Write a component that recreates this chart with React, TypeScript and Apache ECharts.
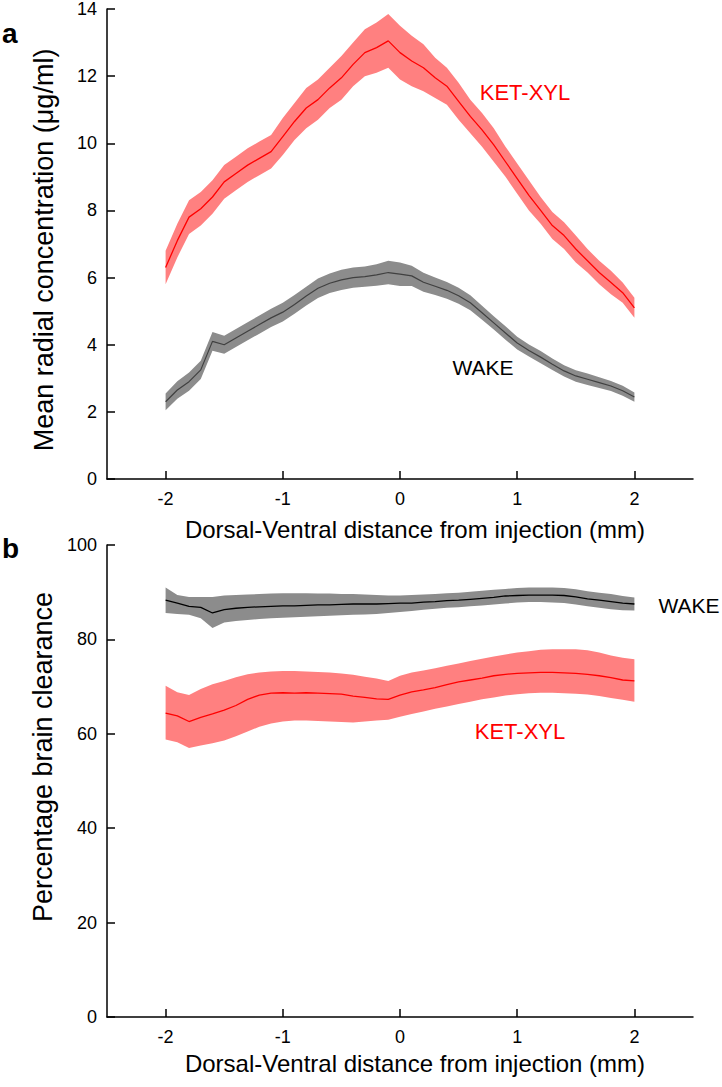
import React, { useEffect, useRef } from "react";
import * as echarts from "echarts";

// distance from injection (mm)
const X = [
  -2.0, -1.9, -1.8, -1.7, -1.6, -1.5, -1.4, -1.3, -1.2, -1.1, -1.0, -0.9, -0.8, -0.7, -0.6, -0.5, -0.4, -0.3, -0.2, -0.1,
  0.0, 0.1, 0.2, 0.3, 0.4, 0.5, 0.6, 0.7, 0.8, 0.9, 1.0, 1.1, 1.2, 1.3, 1.4, 1.5, 1.6, 1.7, 1.8, 1.9, 2.0,
];
const X_TICKS = [-2, -1, 0, 1, 2];

// Panel a: mean radial concentration (µg/ml)
const CONC_KET = [
  6.3, 7.1, 7.8, 8.05, 8.4, 8.85, 9.1, 9.35, 9.55, 9.75, 10.2, 10.65, 11.05, 11.3, 11.65, 11.95, 12.35, 12.7, 12.85, 13.05,
  12.7, 12.45, 12.25, 11.95, 11.7, 11.25, 10.8, 10.4, 9.95, 9.45, 8.95, 8.45, 8.0, 7.55, 7.25, 6.85, 6.5, 6.15, 5.85, 5.55, 5.1,
];
const CONC_KET_SE = [
  0.5, 0.5, 0.5, 0.5, 0.5, 0.5, 0.5, 0.5, 0.5, 0.5, 0.55, 0.55, 0.6, 0.6, 0.6, 0.65, 0.65, 0.7, 0.75, 0.8,
  0.8, 0.75, 0.7, 0.6, 0.55, 0.55, 0.5, 0.5, 0.5, 0.45, 0.45, 0.45, 0.4, 0.4, 0.4, 0.4, 0.35, 0.35, 0.35, 0.3, 0.3,
];
const CONC_WAKE = [
  2.3, 2.65, 2.9, 3.25, 4.1, 4.0, 4.2, 4.4, 4.6, 4.8, 4.97, 5.2, 5.45, 5.68, 5.83, 5.93, 6.0, 6.03, 6.08, 6.15,
  6.1, 6.05, 5.86, 5.74, 5.62, 5.46, 5.25, 4.95, 4.65, 4.35, 4.05, 3.83, 3.63, 3.42, 3.22, 3.07, 2.97, 2.87, 2.77, 2.63, 2.44,
];
const CONC_WAKE_SE = [
  0.25, 0.26, 0.27, 0.27, 0.28, 0.27, 0.27, 0.27, 0.27, 0.27, 0.28, 0.28, 0.28, 0.29, 0.29, 0.3, 0.3, 0.3, 0.32, 0.35,
  0.35, 0.3, 0.28, 0.26, 0.25, 0.24, 0.22, 0.21, 0.2, 0.2, 0.19, 0.18, 0.18, 0.17, 0.17, 0.17, 0.17, 0.16, 0.15, 0.15, 0.14,
];

// Panel b: percentage brain clearance
const CLR_WAKE = [
  88.3, 87.7, 87.0, 86.8, 85.6, 86.3, 86.6, 86.8, 86.9, 87.0, 87.1, 87.1, 87.2, 87.3, 87.3, 87.4, 87.5, 87.5, 87.5, 87.6,
  87.7, 87.7, 87.9, 88.0, 88.2, 88.3, 88.5, 88.7, 88.9, 89.2, 89.3, 89.4, 89.4, 89.4, 89.3, 89.0, 88.6, 88.3, 88.0, 87.7, 87.5,
];
const CLR_WAKE_HI = [
  91.0, 89.4, 89.0, 89.0, 89.0, 89.3, 89.4, 89.5, 89.6, 89.7, 89.8, 89.8, 89.8, 89.7, 89.7, 89.6, 89.6, 89.5, 89.4, 89.3,
  89.3, 89.4, 89.5, 89.6, 89.8, 89.9, 90.1, 90.3, 90.5, 90.7, 90.9, 91.0, 91.0, 91.0, 90.9, 90.6, 90.2, 89.9, 89.6, 89.2, 88.9,
];
const CLR_WAKE_LO = [
  85.6, 85.4, 85.2, 84.5, 82.4, 83.6, 83.9, 84.1, 84.3, 84.5, 84.6, 84.7, 84.8, 84.9, 85.0, 85.1, 85.2, 85.3, 85.4, 85.6,
  85.8, 86.0, 86.3, 86.5, 86.7, 86.8, 87.0, 87.2, 87.4, 87.6, 87.8, 87.9, 87.9, 87.8, 87.7, 87.4, 87.0, 86.7, 86.4, 86.2, 86.1,
];
const CLR_KET = [
  64.4, 63.8, 62.6, 63.5, 64.2, 65.0, 66.0, 67.3, 68.2, 68.6, 68.7, 68.6, 68.7, 68.6, 68.5, 68.4, 68.0, 67.7, 67.4, 67.3,
  68.2, 68.9, 69.3, 69.8, 70.4, 71.0, 71.4, 71.8, 72.3, 72.6, 72.8, 72.9, 73.0, 73.0, 72.9, 72.8, 72.6, 72.3, 71.9, 71.4, 71.2,
];
const CLR_KET_HI = [
  70.2, 68.8, 68.2, 69.5, 70.5, 71.2, 72.0, 72.6, 73.0, 73.2, 73.3, 73.3, 73.2, 73.1, 73.0, 72.8, 72.5, 72.1, 71.7, 71.2,
  72.3, 73.0, 73.4, 73.9, 74.4, 74.9, 75.4, 75.9, 76.4, 76.8, 77.2, 77.5, 77.8, 77.9, 77.9, 77.9, 77.7, 77.2, 76.6, 76.1, 75.8,
];
const CLR_KET_LO = [
  58.8, 58.2, 57.0, 57.5, 58.0, 58.6, 59.5, 60.5, 61.5, 62.2, 62.6, 62.8, 62.8, 62.7, 62.6, 62.5, 62.4, 62.6, 62.8, 63.0,
  63.6, 64.2, 64.7, 65.3, 65.8, 66.3, 66.8, 67.3, 67.7, 68.1, 68.4, 68.6, 68.7, 68.7, 68.6, 68.5, 68.3, 68.0, 67.6, 67.2, 66.8,
];

const FONT = "'Liberation Sans', Arial, Helvetica, sans-serif";
const RED = "#ff0000";
const RED_BAND = "#ff8080";
const GRAY_BAND = "#8c8c8c";

function band(gi: number, lo: number[], hi: number[], color: string) {
  return {
    type: "custom",
    xAxisIndex: gi,
    yAxisIndex: gi,
    silent: true,
    z: 1,
    data: [[0, 0]],
    renderItem: (_p: any, api: any) => {
      const pts: number[][] = [];
      for (let i = 0; i < X.length; i++) pts.push(api.coord([X[i], hi[i]]));
      for (let i = X.length - 1; i >= 0; i--) pts.push(api.coord([X[i], lo[i]]));
      return { type: "polygon", shape: { points: pts }, style: { fill: color } };
    },
  };
}

function line(gi: number, vals: number[], color: string, width: number) {
  return {
    type: "line",
    xAxisIndex: gi,
    yAxisIndex: gi,
    data: X.map((x, i) => [x, vals[i]]),
    showSymbol: false,
    symbol: "none",
    silent: true,
    z: 3,
    lineStyle: { color, width },
  };
}

function xAxis(gi: number) {
  return {
    type: "value",
    gridIndex: gi,
    min: -2.5,
    max: 2.5,
    axisLine: { show: true, onZero: false, lineStyle: { color: "#000", width: 1.5 } },
    axisTick: { show: true, inside: true, length: 8, customValues: X_TICKS, lineStyle: { color: "#000", width: 1.5 } },
    axisLabel: { customValues: X_TICKS, color: "#000", fontSize: 18, fontFamily: FONT, margin: 11 },
    splitLine: { show: false },
  };
}

function yAxis(gi: number, max: number, interval: number) {
  return {
    type: "value",
    gridIndex: gi,
    min: 0,
    max,
    interval,
    axisLine: { show: true, onZero: false, lineStyle: { color: "#000", width: 1.5 } },
    axisTick: { show: true, inside: true, length: 8, lineStyle: { color: "#000", width: 1.5 } },
    axisLabel: { color: "#000", fontSize: 18, fontFamily: FONT, margin: 10 },
    splitLine: { show: false },
  };
}

function txt(x: number, y: number, text: string, size: number, color = "#000", opts: any = {}) {
  return {
    type: "text",
    x,
    y,
    rotation: opts.rotation || 0,
    silent: true,
    style: {
      text,
      fill: color,
      fontSize: size,
      fontFamily: FONT,
      fontWeight: opts.bold ? "bold" : "normal",
      align: opts.align || "center",
      verticalAlign: "middle",
    },
  };
}

export default function App() {
  const ref = useRef<HTMLDivElement>(null);
  useEffect(() => {
    const chart = echarts.init(ref.current!, null, { renderer: "svg" });
    chart.setOption({
      animation: false,
      backgroundColor: "#fff",
      grid: [
        { left: 107, top: 9, width: 586, height: 470 },
        { left: 107, top: 545, width: 586, height: 472 },
      ],
      xAxis: [xAxis(0), xAxis(1)],
      yAxis: [yAxis(0, 14, 2), yAxis(1, 100, 20)],
      series: [
        band(0, CONC_KET.map((v, i) => v - CONC_KET_SE[i]), CONC_KET.map((v, i) => v + CONC_KET_SE[i]), RED_BAND),
        band(0, CONC_WAKE.map((v, i) => v - CONC_WAKE_SE[i]), CONC_WAKE.map((v, i) => v + CONC_WAKE_SE[i]), GRAY_BAND),
        line(0, CONC_KET, RED, 1.3),
        line(0, CONC_WAKE, "#404040", 1.2),
        band(1, CLR_WAKE_LO, CLR_WAKE_HI, GRAY_BAND),
        band(1, CLR_KET_LO, CLR_KET_HI, RED_BAND),
        line(1, CLR_WAKE, "#000", 1.3),
        line(1, CLR_KET, RED, 1.3),
      ],
      graphic: [
        txt(2, 33, "a", 28, "#000", { bold: true, align: "left" }),
        txt(2, 548, "b", 28, "#000", { bold: true, align: "left" }),
        txt(44, 250, "Mean radial concentration (\u03bcg/ml)", 27, "#000", { rotation: Math.PI / 2 }),
        txt(43, 757, "Percentage brain clearance", 27, "#000", { rotation: Math.PI / 2 }),
        txt(415, 529, "Dorsal-Ventral distance from injection (mm)", 24),
        txt(415, 1063, "Dorsal-Ventral distance from injection (mm)", 24),
        txt(525, 92, "KET-XYL", 22, RED),
        txt(483, 367, "WAKE", 21),
        txt(689, 605, "WAKE", 21),
        txt(520, 731, "KET-XYL", 22, RED),
      ],
    });
    return () => chart.dispose();
  }, []);
  return <div ref={ref} style={{ position: "absolute", left: 0, top: 0, width: 722, height: 1087 }} />;
}
